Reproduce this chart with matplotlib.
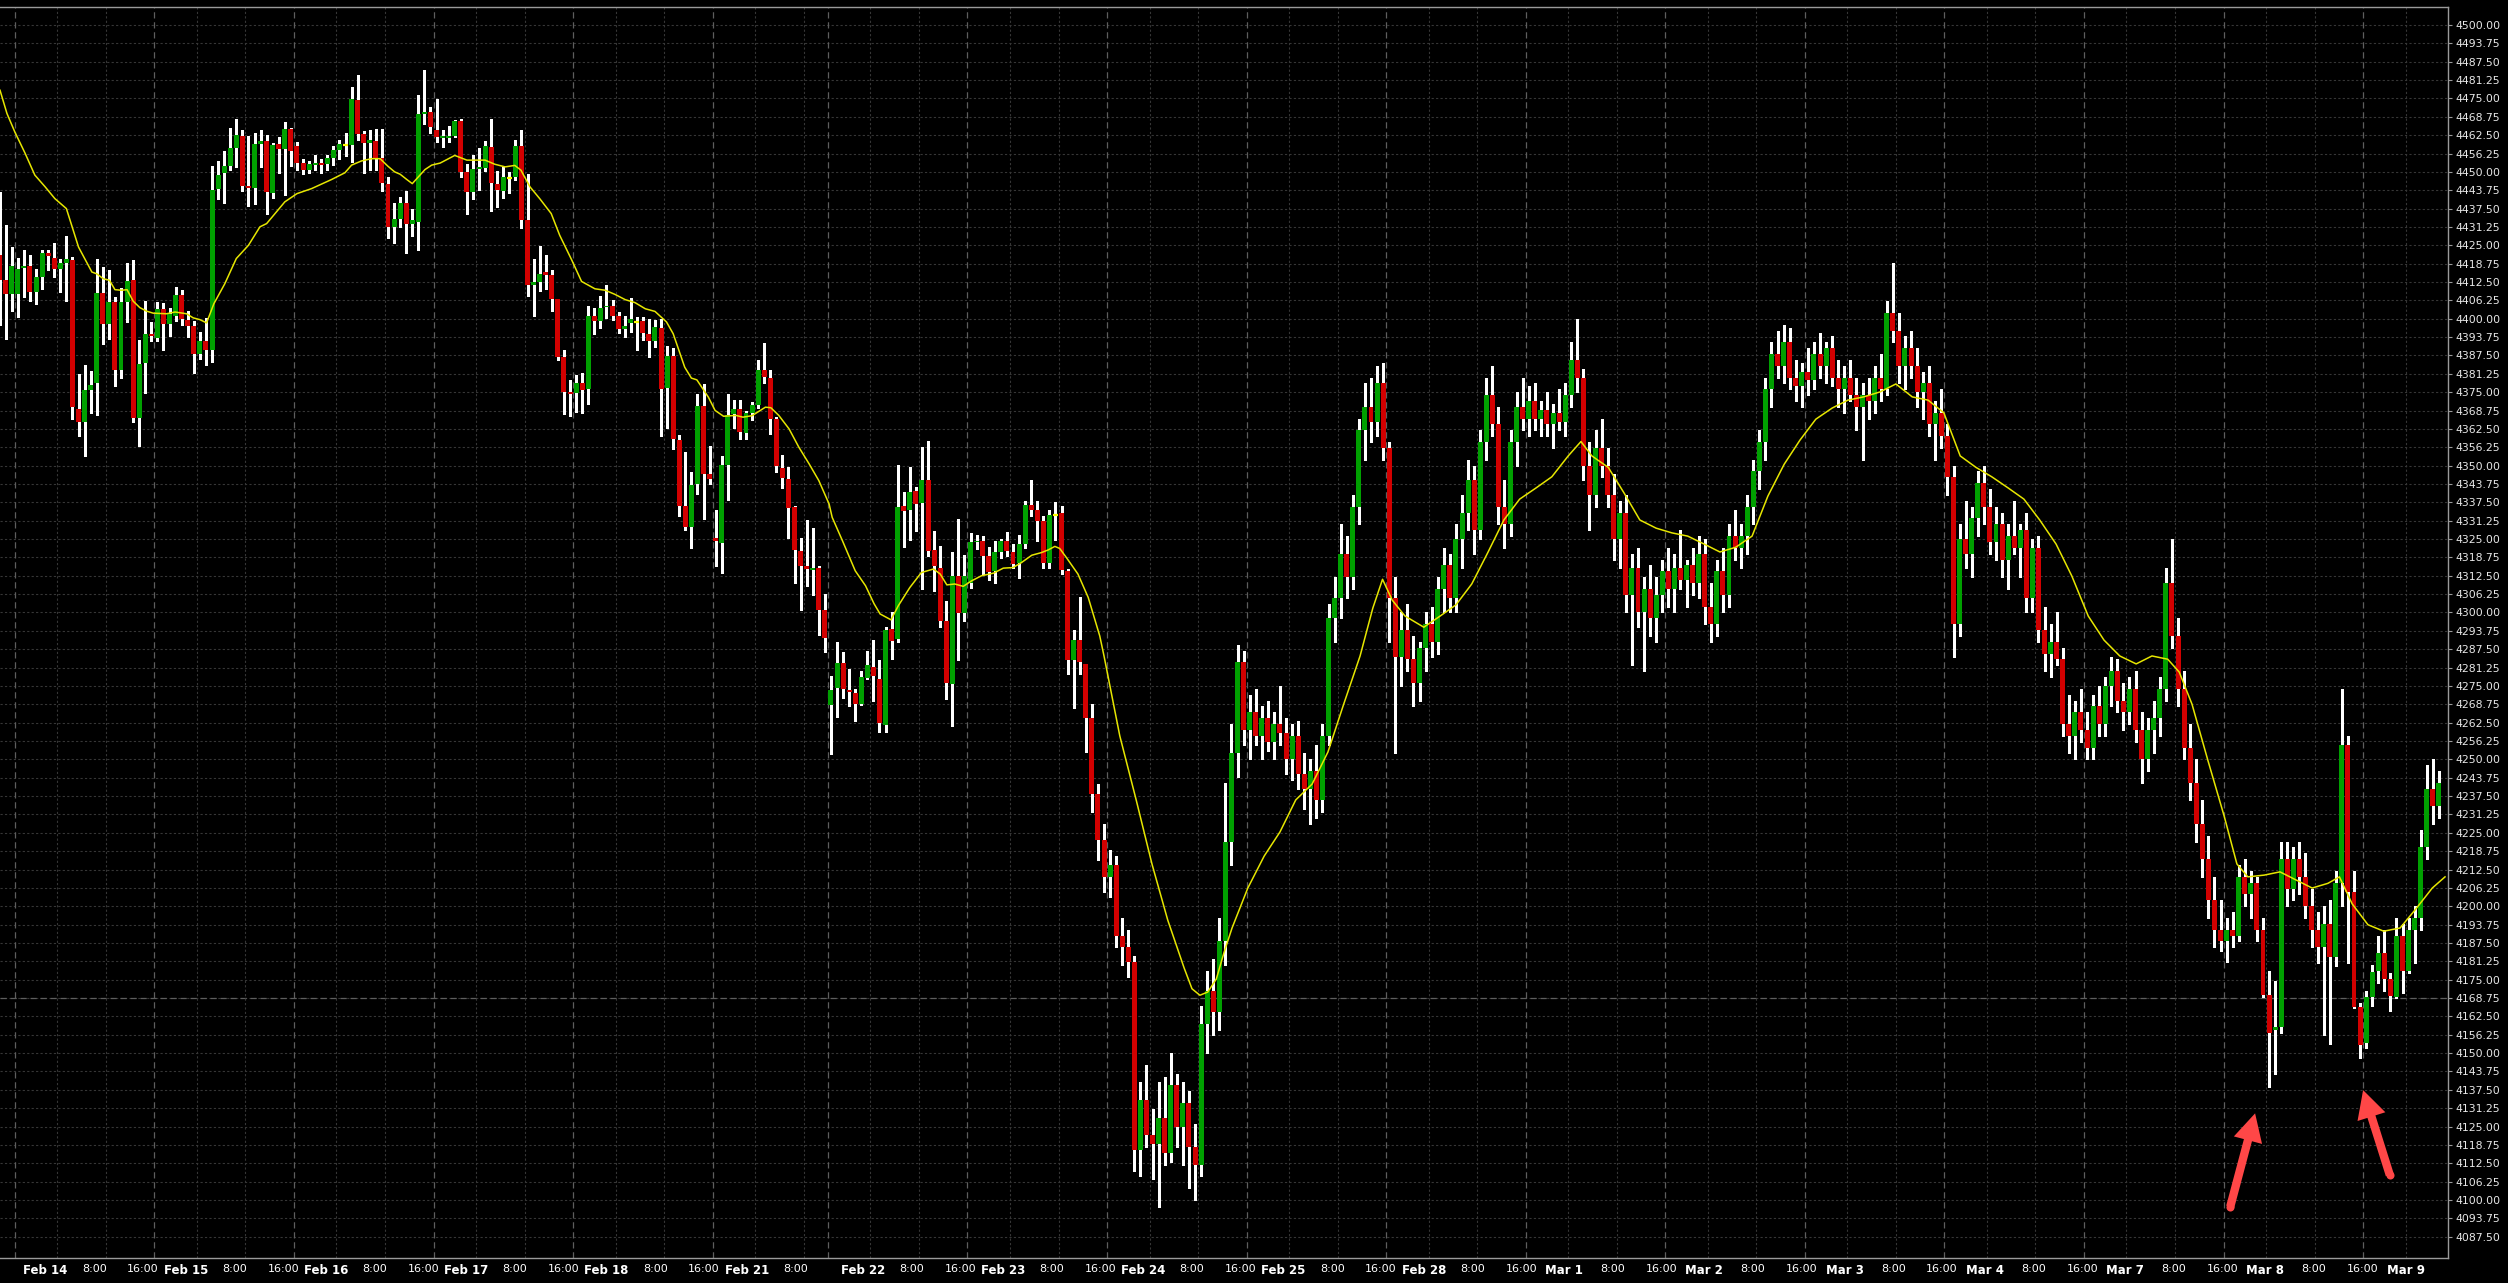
import matplotlib.pyplot as plt
from matplotlib.patches import FancyArrowPatch
import numpy as np

# hourly candles (index 0 = first, partly hidden bar)
opens = [4421.6, 4413.1, 4408.5, 4408.5, 4417.2, 4417.8, 4409.1, 4414.1, 4422.5, 4420.8,
         4416.8, 4419.0, 4419.9, 4369.3, 4365.0, 4375.6, 4378.1, 4408.6, 4398.1, 4405.6,
         4382.5, 4405.6, 4413.1, 4366.1, 4384.9, 4394.7, 4393.5, 4403.4, 4398.3, 4401.1,
         4408.0, 4399.7, 4397.7, 4388.1, 4392.3, 4389.4, 4444.1, 4449.6, 4451.9, 4458.2,
         4462.2, 4445.2, 4444.5, 4459.6, 4460.5, 4442.8, 4459.4, 4457.9, 4464.5, 4458.7,
         4453.1, 4450.6, 4452.4, 4453.1, 4452.6, 4454.8, 4457.4, 4459.1, 4459.2, 4474.4,
         4462.8, 4459.9, 4460.5, 4454.7, 4446.0, 4431.3, 4433.9, 4439.5, 4432.3, 4433.0,
         4469.8, 4470.5, 4464.2, 4461.6, 4461.6, 4462.2, 4467.3, 4450.0, 4443.2, 4450.9,
         4451.4, 4458.4, 4445.8, 4443.5, 4448.0, 4448.3, 4458.7, 4433.5, 4411.6, 4412.4,
         4415.8, 4414.8, 4406.6, 4387.0, 4375.0, 4374.7, 4378.2, 4376.0, 4400.8, 4399.2,
         4403.9, 4404.4, 4400.9, 4396.4, 4398.6, 4398.9, 4399.1, 4394.9, 4392.4, 4396.9,
         4376.4, 4387.2, 4358.8, 4336.3, 4329.0, 4343.8, 4370.2, 4347.1, 4325.3, 4323.5,
         4350.3, 4367.6, 4369.4, 4361.1, 4367.8, 4370.8, 4382.6, 4379.9, 4365.9, 4349.2,
         4345.3, 4335.8, 4320.8, 4315.8, 4314.4, 4315.0, 4300.8, 4268.5, 4274.2, 4282.7,
         4273.7, 4272.7, 4268.8, 4277.8, 4281.6, 4277.5, 4261.7, 4294.4, 4290.9, 4336.4,
         4335.0, 4341.5, 4337.2, 4345.1, 4321.2, 4315.1, 4297.1, 4275.7, 4312.5, 4299.7,
         4310.2, 4323.9, 4324.4, 4319.1, 4314.2, 4320.7, 4324.4, 4320.7, 4316.8, 4323.3,
         4336.7, 4334.9, 4331.2, 4317.0, 4333.3, 4333.9, 4314.2, 4283.9, 4290.7, 4282.4,
         4264.2, 4238.1, 4222.7, 4210.0, 4214.0, 4190.0, 4186.0, 4181.0, 4117.0, 4134.0,
         4122.0, 4119.0, 4128.0, 4116.0, 4139.0, 4125.0, 4133.0, 4118.0, 4112.0, 4160.0,
         4171.0, 4164.0, 4188.0, 4222.0, 4252.0, 4283.0, 4260.0, 4266.0, 4258.0, 4264.0,
         4256.0, 4262.0, 4259.0, 4250.0, 4258.0, 4245.0, 4240.0, 4246.0, 4236.0, 4258.0,
         4298.0, 4305.0, 4320.0, 4312.0, 4336.0, 4362.0, 4370.0, 4365.0, 4378.0, 4356.0,
         4305.0, 4285.0, 4294.0, 4284.0, 4276.0, 4288.0, 4296.0, 4290.0, 4308.0, 4316.0,
         4305.0, 4325.0, 4334.0, 4345.0, 4328.0, 4358.0, 4374.0, 4364.0, 4336.0, 4330.0,
         4358.0, 4370.0, 4366.0, 4372.0, 4366.0, 4369.0, 4364.0, 4368.0, 4365.0, 4374.0,
         4386.0, 4380.0, 4350.0, 4340.0, 4356.0, 4350.0, 4340.0, 4325.0, 4334.0, 4306.0,
         4315.0, 4300.0, 4308.0, 4298.0, 4306.0, 4314.0, 4308.0, 4315.0, 4311.0, 4316.0,
         4310.0, 4320.0, 4302.0, 4296.0, 4314.0, 4306.0, 4326.0, 4322.0, 4326.0, 4336.0,
         4348.0, 4358.0, 4376.0, 4388.0, 4384.0, 4392.0, 4380.0, 4377.0, 4382.0, 4379.0,
         4388.0, 4384.0, 4390.0, 4380.0, 4376.0, 4380.0, 4374.0, 4370.0, 4374.0, 4372.0,
         4380.0, 4376.0, 4402.0, 4396.0, 4384.0, 4390.0, 4384.0, 4375.0, 4378.0, 4364.0,
         4368.0, 4360.0, 4346.0, 4296.0, 4325.0, 4320.0, 4332.0, 4344.0, 4336.0, 4324.0,
         4330.0, 4318.0, 4326.0, 4322.0, 4328.0, 4305.0, 4322.0, 4294.0, 4286.0, 4290.0,
         4284.0, 4262.0, 4258.0, 4266.0, 4260.0, 4254.0, 4268.0, 4262.0, 4275.0, 4280.0,
         4270.0, 4266.0, 4274.0, 4260.0, 4250.0, 4260.0, 4264.0, 4274.0, 4310.0, 4292.0,
         4274.0, 4254.0, 4242.0, 4228.0, 4216.0, 4202.0, 4192.0, 4188.0, 4192.0, 4190.0,
         4210.0, 4204.0, 4208.0, 4192.0, 4169.9, 4157.7, 4158.8, 4216.0, 4206.0, 4216.0,
         4210.0, 4200.0, 4192.0, 4186.0, 4194.0, 4182.7, 4208.0, 4255.0, 4205.0, 4165.7,
         4153.4, 4169.1, 4177.8, 4184.1, 4175.2, 4169.1, 4190.0, 4177.8, 4192.0, 4196.0,
         4220.0, 4240.0, 4234.0]
highs = [4443.0, 4431.8, 4424.4, 4420.7, 4423.3, 4421.6, 4416.8, 4423.3, 4423.3, 4425.8,
         4420.2, 4428.1, 4421.0, 4381.2, 4384.1, 4382.1, 4420.2, 4417.6, 4416.5, 4407.4,
         4410.5, 4419.0, 4419.9, 4392.6, 4406.0, 4398.9, 4405.6, 4405.3, 4403.7, 4410.8,
         4409.7, 4402.6, 4399.4, 4395.5, 4400.2, 4451.9, 4453.7, 4457.0, 4464.8, 4467.9,
         4464.2, 4462.2, 4463.4, 4464.2, 4462.5, 4459.9, 4461.9, 4467.1, 4464.9, 4460.2,
         4454.5, 4453.6, 4455.7, 4454.4, 4455.7, 4458.7, 4460.8, 4463.1, 4478.9, 4482.9,
         4464.0, 4464.4, 4464.5, 4464.5, 4448.3, 4439.5, 4441.5, 4443.4, 4437.3, 4476.1,
         4484.7, 4472.2, 4474.7, 4464.2, 4465.6, 4467.6, 4467.9, 4452.8, 4455.6, 4458.2,
         4460.6, 4467.9, 4450.3, 4451.7, 4450.0, 4460.8, 4464.2, 4449.2, 4420.5, 4424.7,
         4421.8, 4416.5, 4406.8, 4389.2, 4379.0, 4380.7, 4381.5, 4404.2, 4403.6, 4407.6,
         4411.4, 4406.5, 4402.3, 4401.1, 4407.2, 4400.6, 4400.6, 4400.0, 4399.7, 4400.0,
         4390.6, 4390.1, 4360.5, 4354.5, 4347.7, 4374.4, 4377.8, 4356.8, 4334.9, 4353.4,
         4374.4, 4372.5, 4372.4, 4368.5, 4371.6, 4386.0, 4391.7, 4382.6, 4366.7, 4353.7,
         4349.4, 4336.3, 4325.3, 4331.5, 4328.6, 4315.9, 4306.3, 4278.4, 4289.8, 4286.4,
         4280.9, 4273.9, 4280.1, 4286.9, 4290.6, 4283.9, 4295.1, 4300.2, 4350.3, 4341.1,
         4349.7, 4342.6, 4356.2, 4358.3, 4327.8, 4322.7, 4304.0, 4320.7, 4331.8, 4319.7,
         4327.0, 4326.4, 4326.1, 4322.4, 4324.4, 4325.0, 4327.5, 4323.3, 4326.5, 4338.0,
         4345.2, 4337.8, 4332.7, 4335.0, 4337.5, 4336.4, 4314.8, 4294.1, 4305.3, 4282.6,
         4268.8, 4241.5, 4228.0, 4219.0, 4217.0, 4196.0, 4192.0, 4183.0, 4140.0, 4146.0,
         4131.0, 4140.0, 4142.0, 4150.0, 4143.0, 4140.0, 4137.0, 4126.0, 4166.0, 4178.0,
         4182.0, 4196.0, 4242.0, 4262.0, 4289.0, 4287.0, 4272.0, 4274.0, 4268.0, 4270.0,
         4266.0, 4275.0, 4264.0, 4262.0, 4263.0, 4252.0, 4250.0, 4255.0, 4262.0, 4303.0,
         4312.0, 4330.0, 4326.0, 4340.0, 4366.0, 4378.0, 4380.0, 4384.0, 4385.0, 4358.0,
         4312.0, 4300.0, 4303.0, 4292.0, 4290.0, 4300.0, 4302.0, 4312.0, 4322.0, 4320.0,
         4330.0, 4340.0, 4352.0, 4350.0, 4362.0, 4380.0, 4384.0, 4370.0, 4345.0, 4362.0,
         4375.0, 4380.0, 4377.0, 4378.0, 4372.0, 4375.0, 4371.0, 4376.0, 4378.0, 4392.0,
         4400.0, 4383.0, 4358.0, 4362.0, 4366.0, 4356.0, 4347.0, 4338.0, 4340.0, 4320.0,
         4322.0, 4312.0, 4316.0, 4312.0, 4318.0, 4322.0, 4320.0, 4328.0, 4318.0, 4322.0,
         4326.0, 4325.0, 4310.0, 4318.0, 4322.0, 4330.0, 4335.0, 4330.0, 4340.0, 4352.0,
         4362.0, 4380.0, 4392.0, 4396.0, 4398.0, 4397.0, 4386.0, 4385.0, 4390.0, 4392.0,
         4395.0, 4392.0, 4394.0, 4386.0, 4384.0, 4386.0, 4380.0, 4378.0, 4380.0, 4384.0,
         4388.0, 4406.0, 4419.0, 4402.0, 4394.0, 4396.0, 4390.0, 4382.0, 4384.0, 4372.0,
         4376.0, 4364.0, 4350.0, 4330.0, 4338.0, 4336.0, 4348.0, 4350.0, 4342.0, 4336.0,
         4334.0, 4330.0, 4338.0, 4330.0, 4334.0, 4325.0, 4326.0, 4302.0, 4296.0, 4300.0,
         4288.0, 4272.0, 4270.0, 4274.0, 4266.0, 4272.0, 4275.0, 4278.0, 4285.0, 4284.0,
         4276.0, 4278.0, 4280.0, 4266.0, 4264.0, 4270.0, 4278.0, 4315.0, 4325.0, 4298.0,
         4280.0, 4262.0, 4250.0, 4236.0, 4224.0, 4210.0, 4202.0, 4196.0, 4198.0, 4214.0,
         4216.0, 4212.0, 4210.0, 4196.0, 4178.1, 4174.4, 4222.0, 4222.0, 4220.0, 4222.0,
         4218.0, 4206.0, 4198.0, 4200.0, 4202.0, 4212.0, 4274.0, 4258.0, 4212.0, 4167.0,
         4171.0, 4180.1, 4190.0, 4192.0, 4177.3, 4196.0, 4194.0, 4196.0, 4200.0, 4226.0,
         4248.0, 4250.0, 4246.0]
lows = [4398.0, 4393.2, 4402.6, 4400.6, 4407.4, 4406.0, 4405.0, 4410.1, 4416.7, 4414.2,
        4409.0, 4406.0, 4365.9, 4360.0, 4353.4, 4367.8, 4367.3, 4391.5, 4393.2, 4377.0,
        4379.8, 4398.9, 4364.8, 4356.6, 4374.8, 4392.4, 4392.5, 4389.4, 4394.0, 4399.2,
        4398.0, 4393.8, 4381.5, 4386.4, 4384.3, 4385.2, 4440.8, 4439.4, 4450.6, 4451.7,
        4443.5, 4438.4, 4439.1, 4451.7, 4435.7, 4441.1, 4449.7, 4442.0, 4451.9, 4450.6,
        4449.4, 4449.6, 4450.6, 4449.7, 4450.6, 4452.4, 4454.4, 4455.3, 4453.4, 4461.0,
        4449.7, 4450.6, 4450.8, 4443.5, 4427.5, 4425.8, 4431.3, 4422.5, 4428.2, 4423.3,
        4466.2, 4463.3, 4460.2, 4458.5, 4460.2, 4461.9, 4448.3, 4435.8, 4440.9, 4444.0,
        4450.3, 4436.7, 4438.1, 4441.1, 4442.8, 4447.4, 4431.0, 4407.9, 4400.9, 4409.4,
        4410.0, 4402.6, 4385.8, 4367.6, 4366.8, 4368.2, 4367.8, 4371.0, 4394.9, 4396.8,
        4400.3, 4399.7, 4395.1, 4393.7, 4395.5, 4389.4, 4392.8, 4386.9, 4390.4, 4360.2,
        4362.8, 4355.7, 4332.7, 4328.1, 4321.8, 4340.3, 4331.8, 4343.8, 4315.9, 4313.6,
        4338.3, 4362.8, 4359.1, 4359.1, 4365.6, 4369.7, 4378.1, 4360.8, 4347.7, 4342.4,
        4325.3, 4310.2, 4300.8, 4309.1, 4306.0, 4292.4, 4286.7, 4251.9, 4264.4, 4271.0,
        4268.2, 4263.1, 4268.5, 4277.3, 4269.9, 4259.4, 4259.4, 4284.3, 4289.8, 4322.4,
        4324.8, 4327.6, 4308.0, 4319.3, 4307.4, 4294.9, 4270.5, 4261.3, 4283.8, 4297.0,
        4308.5, 4321.6, 4313.1, 4311.0, 4309.9, 4318.5, 4319.3, 4315.3, 4311.6, 4322.0,
        4333.0, 4324.2, 4315.1, 4315.3, 4324.8, 4313.1, 4279.2, 4267.6, 4279.0, 4252.6,
        4232.1, 4215.9, 4205.0, 4203.0, 4186.0, 4180.0, 4176.0, 4110.0, 4108.0, 4118.0,
        4107.0, 4097.6, 4112.0, 4113.0, 4118.0, 4112.0, 4104.0, 4100.0, 4108.0, 4150.0,
        4156.0, 4158.0, 4180.0, 4214.0, 4244.0, 4255.0, 4250.0, 4255.0, 4250.0, 4253.0,
        4250.0, 4255.0, 4245.0, 4243.0, 4240.0, 4233.0, 4228.0, 4230.0, 4232.0, 4255.0,
        4290.0, 4298.0, 4305.0, 4308.0, 4330.0, 4352.0, 4358.0, 4360.0, 4352.0, 4290.0,
        4252.0, 4275.0, 4280.0, 4268.0, 4270.0, 4280.0, 4285.0, 4286.0, 4300.0, 4300.0,
        4300.0, 4315.0, 4328.0, 4320.0, 4325.0, 4352.0, 4360.0, 4330.0, 4322.0, 4326.0,
        4350.0, 4362.0, 4360.0, 4362.0, 4360.0, 4360.0, 4356.0, 4362.0, 4360.0, 4370.0,
        4375.0, 4345.0, 4328.0, 4336.0, 4346.0, 4336.0, 4318.0, 4315.0, 4300.0, 4282.0,
        4295.0, 4280.0, 4292.0, 4290.0, 4300.0, 4302.0, 4300.0, 4308.0, 4302.0, 4306.0,
        4305.0, 4296.0, 4290.0, 4292.0, 4300.0, 4302.0, 4318.0, 4315.0, 4320.0, 4330.0,
        4342.0, 4352.0, 4370.0, 4380.0, 4378.0, 4376.0, 4372.0, 4370.0, 4374.0, 4376.0,
        4380.0, 4378.0, 4377.0, 4370.0, 4368.0, 4372.0, 4362.0, 4352.0, 4366.0, 4368.0,
        4372.0, 4374.0, 4392.0, 4378.0, 4376.0, 4380.0, 4370.0, 4366.0, 4360.0, 4352.0,
        4356.0, 4340.0, 4285.0, 4292.0, 4315.0, 4312.0, 4326.0, 4330.0, 4320.0, 4318.0,
        4312.0, 4308.0, 4320.0, 4312.0, 4300.0, 4300.0, 4290.0, 4280.0, 4278.0, 4282.0,
        4258.0, 4252.0, 4250.0, 4256.0, 4250.0, 4250.0, 4258.0, 4258.0, 4268.0, 4266.0,
        4260.0, 4262.0, 4256.0, 4242.0, 4246.0, 4252.0, 4258.0, 4270.0, 4288.0, 4268.0,
        4250.0, 4236.0, 4222.0, 4210.0, 4196.0, 4186.0, 4184.7, 4180.9, 4186.0, 4188.0,
        4200.0, 4196.0, 4188.0, 4169.1, 4138.6, 4143.0, 4156.8, 4200.0, 4202.0, 4204.0,
        4196.0, 4186.0, 4180.7, 4156.2, 4153.1, 4179.5, 4200.0, 4180.7, 4165.3, 4148.3,
        4151.9, 4166.0, 4173.9, 4171.0, 4164.5, 4168.8, 4170.5, 4177.3, 4180.7, 4192.0,
        4216.0, 4228.0, 4230.0]
closes = [4413.1, 4408.5, 4417.8, 4416.8, 4417.8, 4409.1, 4414.1, 4422.5, 4421.4, 4416.8,
          4418.9, 4420.2, 4369.9, 4365.0, 4375.6, 4377.6, 4408.6, 4398.1, 4405.6, 4382.5,
          4405.6, 4412.7, 4366.1, 4384.7, 4394.7, 4394.1, 4403.4, 4398.3, 4401.7, 4408.0,
          4400.0, 4397.7, 4388.1, 4392.3, 4389.5, 4444.0, 4449.1, 4451.9, 4458.1, 4462.5,
          4445.2, 4444.5, 4459.4, 4460.5, 4443.2, 4459.1, 4457.9, 4464.5, 4457.2, 4453.1,
          4450.6, 4452.6, 4453.1, 4452.3, 4454.8, 4457.4, 4459.4, 4459.1, 4474.7, 4462.8,
          4459.9, 4460.8, 4454.7, 4446.3, 4431.3, 4433.9, 4439.5, 4432.3, 4433.5, 4469.7,
          4470.5, 4465.3, 4461.9, 4462.2, 4462.1, 4467.3, 4450.0, 4443.2, 4450.9, 4451.7,
          4458.7, 4446.3, 4443.8, 4448.3, 4448.0, 4458.7, 4433.7, 4411.6, 4412.4, 4415.4,
          4414.8, 4406.6, 4387.0, 4375.0, 4374.3, 4378.2, 4375.7, 4400.8, 4399.2, 4403.7,
          4404.4, 4401.1, 4396.4, 4397.7, 4399.9, 4398.9, 4395.1, 4392.4, 4397.1, 4376.0,
          4387.2, 4358.9, 4336.4, 4329.0, 4343.5, 4370.2, 4347.1, 4345.5, 4324.2, 4350.3,
          4367.4, 4369.4, 4361.6, 4367.8, 4370.8, 4382.6, 4380.1, 4365.9, 4350.0, 4345.7,
          4335.7, 4321.3, 4315.8, 4314.9, 4315.1, 4300.8, 4291.3, 4273.5, 4282.9, 4273.9,
          4273.1, 4268.8, 4278.1, 4282.0, 4278.4, 4262.5, 4294.1, 4290.3, 4336.0, 4334.4,
          4340.9, 4336.9, 4345.1, 4321.0, 4315.7, 4297.1, 4276.1, 4312.3, 4299.8, 4312.3,
          4324.1, 4324.4, 4319.1, 4313.9, 4320.7, 4324.4, 4321.0, 4316.5, 4323.3, 4336.7,
          4334.9, 4331.2, 4317.0, 4333.3, 4333.3, 4314.4, 4283.9, 4290.7, 4283.0, 4264.2,
          4238.3, 4222.7, 4210.0, 4214.0, 4190.0, 4186.0, 4181.0, 4117.0, 4134.0, 4122.0,
          4119.0, 4128.0, 4116.0, 4139.0, 4125.0, 4133.0, 4118.0, 4112.0, 4160.0, 4171.0,
          4164.0, 4188.0, 4222.0, 4252.0, 4283.0, 4260.0, 4266.0, 4258.0, 4264.0, 4256.0,
          4262.0, 4259.0, 4250.0, 4258.0, 4245.0, 4240.0, 4246.0, 4236.0, 4258.0, 4298.0,
          4305.0, 4320.0, 4312.0, 4336.0, 4362.0, 4370.0, 4365.0, 4378.0, 4356.0, 4305.0,
          4285.0, 4294.0, 4284.0, 4276.0, 4288.0, 4296.0, 4290.0, 4308.0, 4316.0, 4305.0,
          4325.0, 4334.0, 4345.0, 4328.0, 4358.0, 4374.0, 4364.0, 4336.0, 4330.0, 4358.0,
          4370.0, 4366.0, 4372.0, 4366.0, 4369.0, 4364.0, 4368.0, 4365.0, 4374.0, 4386.0,
          4380.0, 4350.0, 4340.0, 4356.0, 4350.0, 4340.0, 4325.0, 4334.0, 4306.0, 4315.0,
          4300.0, 4308.0, 4298.0, 4306.0, 4314.0, 4308.0, 4315.0, 4311.0, 4316.0, 4310.0,
          4320.0, 4302.0, 4296.0, 4314.0, 4306.0, 4326.0, 4322.0, 4326.0, 4336.0, 4348.0,
          4358.0, 4376.0, 4388.0, 4384.0, 4392.0, 4380.0, 4377.0, 4382.0, 4379.0, 4388.0,
          4384.0, 4390.0, 4380.0, 4376.0, 4380.0, 4374.0, 4370.0, 4374.0, 4372.0, 4380.0,
          4376.0, 4402.0, 4396.0, 4384.0, 4390.0, 4384.0, 4375.0, 4378.0, 4364.0, 4368.0,
          4360.0, 4346.0, 4296.0, 4325.0, 4320.0, 4332.0, 4344.0, 4336.0, 4324.0, 4330.0,
          4318.0, 4326.0, 4322.0, 4328.0, 4305.0, 4322.0, 4294.0, 4286.0, 4290.0, 4284.0,
          4262.0, 4258.0, 4266.0, 4260.0, 4254.0, 4268.0, 4262.0, 4275.0, 4280.0, 4270.0,
          4266.0, 4274.0, 4260.0, 4250.0, 4260.0, 4264.0, 4274.0, 4310.0, 4292.0, 4274.0,
          4254.0, 4242.0, 4228.0, 4216.0, 4202.0, 4192.0, 4188.0, 4192.0, 4190.0, 4210.0,
          4204.0, 4208.0, 4192.0, 4169.9, 4157.0, 4158.9, 4216.0, 4206.0, 4216.0, 4210.0,
          4200.0, 4192.0, 4186.0, 4194.0, 4182.7, 4208.0, 4255.0, 4205.0, 4165.7, 4152.6,
          4169.1, 4177.5, 4184.1, 4175.2, 4169.3, 4190.0, 4177.8, 4192.0, 4196.0, 4220.0,
          4240.0, 4234.0, 4242.0]

# moving average line, read at points along its path (bar index, price)
ma_pos = [0.06, 1.2, 2.5, 4.2, 5.8, 7.5, 9.1, 11.0, 13.0, 15.2, 16.0, 17.1, 18.1, 19.0,
          20.1, 21.0, 22.0, 23.1, 24.2, 25.3, 27.5, 28.9, 30.8, 31.9, 33.0, 34.1, 35.3,
          37.1, 39.0, 41.0, 42.9, 44.0, 47.0, 49.0, 51.4, 53.0, 54.7, 56.9, 58.0, 59.6,
          61.3, 62.7, 64.0, 65.1, 66.0, 67.1, 68.0, 69.0, 70.1, 71.2, 72.6, 75.0, 77.0,
          80.0, 81.6, 83.3, 84.9, 85.9, 87.4, 89.0, 90.9, 92.3, 94.3, 95.9, 98.1, 99.8,
          101.4, 103.1, 104.7, 106.4, 108.0, 109.9, 111.0, 112.9, 114.0, 114.9, 116.8,
          117.9, 119.3, 121.3, 122.5, 124.0, 126.2, 127.1, 128.4, 130.1, 131.7, 133.4,
          135.0, 136.7, 137.2, 138.9, 141.0, 142.7, 144.1, 145.1, 146.9, 148.1, 150.0,
          151.9, 153.9, 155.0, 156.1, 157.4, 158.8, 160.2, 161.8, 163.8, 165.4, 167.0,
          168.4, 170.1, 171.7, 172.8, 173.9, 174.7, 175.8, 177.7, 179.4, 181.3,
          182.0, 184.6, 187.3, 189.9, 192.5, 195.2, 196.5, 197.8, 199.1, 200.5, 201.8,
          203.1, 205.7, 208.4, 211.0, 213.6, 216.3, 218.9, 221.5, 224.2, 226.3, 227.9,
          229.5, 231.6, 234.7, 237.4, 240.0, 242.6, 245.3, 247.9, 250.5, 253.2, 255.8,
          258.5, 260.6, 262.4, 265.1, 267.7, 270.3, 273.0, 275.6, 278.2, 280.9, 283.5,
          286.1, 288.8, 291.4, 294.1, 296.7, 299.3, 302.0, 304.6, 307.2, 309.9, 312.5,
          315.2, 317.8, 320.4, 323.1, 325.7, 328.3, 331.0, 333.6, 336.2, 338.9, 341.5,
          344.2, 346.8, 349.4, 352.1, 354.7, 357.3, 359.2, 361.3, 363.9, 366.6, 368.7,
          370.5, 373.2, 375.8, 378.4, 381.1, 383.7, 385.6, 387.7, 390.3, 392.9, 395.6,
          398.2, 400.9, 403.0]
ma_val = [4477.8, 4469.9, 4463.6, 4456.3, 4448.9, 4444.9, 4440.9, 4437.5, 4424.4, 4415.9,
          4415.3, 4413.6, 4413.1, 4409.9, 4409.7, 4409.9, 4406.0, 4403.8, 4402.6, 4401.9,
          4401.7, 4402.3, 4401.7, 4400.3, 4399.7, 4398.6, 4405.1, 4411.9, 4420.5, 4425.0,
          4431.3, 4432.4, 4439.8, 4442.6, 4444.3, 4445.8, 4447.4, 4449.7, 4452.3, 4453.7,
          4454.5, 4454.5, 4451.9, 4450.0, 4449.2, 4447.4, 4446.0, 4448.3, 4450.8, 4452.3,
          4453.0, 4455.6, 4454.0, 4454.0, 4452.6, 4451.7, 4452.2, 4450.6, 4444.9, 4440.9,
          4435.8, 4428.4, 4419.9, 4412.7, 4410.2, 4409.7, 4408.3, 4406.5, 4405.5, 4403.4,
          4402.5, 4398.9, 4394.9, 4383.5, 4379.8, 4379.2, 4373.3, 4368.8, 4366.8, 4367.1,
          4366.5, 4367.0, 4369.9, 4369.7, 4367.1, 4362.5, 4356.3, 4350.6, 4344.9, 4336.9,
          4332.4, 4324.4, 4314.2, 4309.1, 4303.0, 4299.5, 4297.5, 4302.3, 4308.5, 4313.6,
          4314.8, 4313.1, 4309.4, 4309.7, 4308.9, 4310.8, 4312.5, 4313.4, 4315.1, 4315.3,
          4317.0, 4319.5, 4320.4, 4321.3, 4322.5, 4321.8, 4318.7, 4313.1, 4305.1, 4292.0,
          4285.2, 4258.0, 4236.2, 4214.4, 4195.3, 4179.0, 4171.9, 4169.7, 4170.8, 4175.2,
          4184.4, 4192.6, 4206.2, 4217.1, 4225.3, 4236.2, 4241.6, 4252.5, 4268.8, 4285.2,
          4301.5, 4311.3, 4304.2, 4298.8, 4295.0, 4298.8, 4302.6, 4309.7, 4320.6, 4331.5,
          4338.6, 4342.4, 4346.2, 4353.3, 4358.2, 4353.3, 4349.4, 4340.7, 4331.5, 4328.7,
          4327.1, 4326.0, 4323.3, 4320.6, 4322.2, 4326.0, 4339.6, 4350.5, 4358.7, 4365.8,
          4369.6, 4372.3, 4373.4, 4375.1, 4377.8, 4373.4, 4372.3, 4368.0, 4353.3, 4349.4,
          4346.2, 4342.4, 4338.6, 4331.5, 4323.3, 4312.4, 4298.8, 4290.6, 4285.2, 4282.5,
          4285.2, 4284.1, 4279.7, 4268.8, 4249.8, 4230.7, 4214.4, 4210.0, 4210.6, 4211.7,
          4209.0, 4206.2, 4207.8, 4210.0, 4200.8, 4193.7, 4191.5, 4192.6, 4199.1, 4206.2,
          4210.0]

# session layout along the time axis
day_labels = ['Feb 14', 'Feb 15', 'Feb 16', 'Feb 17', 'Feb 18', 'Feb 21', 'Feb 22',
              'Feb 23', 'Feb 24', 'Feb 25', 'Feb 28', 'Mar 1', 'Mar 2', 'Mar 3',
              'Mar 4', 'Mar 7', 'Mar 8', 'Mar 9']
day_bars = [23, 23, 23, 23, 23, 19, 23, 23, 23, 23, 23, 23, 23, 23, 23, 23, 23, 6]
first_day_bar = 10

price_ticks = np.arange(4087.5, 4500.01, 6.25)
marked_level = 4168.75

BG = '#000000'
UP = '#00a000'
DOWN = '#d20000'
DOJI = '#ffff00'
WICK = '#ffffff'
GRID = '#363636'
SEP = '#5e5e5e'
FRAME = '#9a9a9a'
ARROW = '#ff4747'

fig = plt.figure(figsize=(25.08, 12.83), dpi=100, facecolor=BG)
ax = fig.add_axes([0, 25 / 1283, 2448 / 2508, 1251 / 1283])
ax.set_facecolor(BG)
ax.set_xlim(0.058, 403.49)
ax.set_ylim(4080.25, 4506.13)

# grid
for p in price_ticks:
    ax.axhline(p, color=GRID, lw=0.8, ls=(0, (2, 2)), zorder=0)
ax.axhline(marked_level, color=SEP, lw=0.9, ls=(0, (5, 3)), zorder=0)

tick_pos, tick_lab, seps = [], [], [2.5]
start = first_day_bar
for name, n in zip(day_labels, day_bars):
    tick_pos += [start - 0.5, start + 7.5]
    tick_lab += [name, '8:00']
    if n == 23:
        tick_pos.append(start + 15.5)
        tick_lab.append('16:00')
        seps.append(start + 15.5)
    elif name != day_labels[-1]:
        seps.append(start + n - 7.5)
    start += n
keep = [k for k, p in enumerate(tick_pos) if p < 403]
tick_pos = [tick_pos[k] for k in keep]
tick_lab = [tick_lab[k] for k in keep]

for p, lab in zip(tick_pos, tick_lab):
    if lab != '16:00':
        ax.axvline(p, color=GRID, lw=0.8, ls=(0, (2, 2)), zorder=0)
for p in seps:
    ax.axvline(p, color=SEP, lw=0.9, ls=(0, (5, 3)), zorder=0)

# candles
x = np.arange(len(opens))
o = np.array(opens)
c = np.array(closes)
ax.vlines(x, lows, highs, color=WICK, lw=0.8, antialiased=False, zorder=2)
body_lo = np.minimum(o, c)
body_h = np.maximum(np.abs(c - o), 0.5)
cols = [UP if cc > oo else DOWN for oo, cc in zip(o, c)]
real = o != c
ax.bar(x[real], body_h[real], bottom=body_lo[real], width=0.82,
       color=[cols[k] for k in np.where(real)[0]], linewidth=0, antialiased=False, zorder=3)
ax.hlines(o[~real], x[~real] - 0.41, x[~real] + 0.41, color=DOJI, lw=1.6, zorder=3)

# moving average
ax.plot(ma_pos, ma_val, color='#e6e600', lw=1.1, zorder=4)

# arrows pointing at the two lows
arrows = [((367.6, 4097.7), (371.7, 4129.5)), ((393.9, 4108.5), (389.5, 4137.4))]
for tail, tip in arrows:
    ax.add_patch(FancyArrowPatch(tail, tip, arrowstyle='simple,head_width=2.1,head_length=2.0,tail_width=0.6',
                                 mutation_scale=10, color=ARROW, lw=0, shrinkA=0, shrinkB=0, zorder=6))
    ax.plot(*tail, marker='o', ms=5.8, color=ARROW, mew=0, zorder=6)

# frame and axes
for side in ['top', 'right', 'bottom']:
    ax.spines[side].set_color(FRAME)
    ax.spines[side].set_linewidth(1.0)
ax.spines['left'].set_visible(False)

ax.yaxis.tick_right()
ax.set_yticks(price_ticks)
ax.set_yticklabels(['%.2f' % p for p in price_ticks])
ax.tick_params(axis='y', length=3, width=0.8, color=FRAME, labelcolor='#e8e8e8',
               labelsize=7.8, pad=2)
# the terminal draws its time labels slightly left of the grid lines on the left side
label_pos = [p - 2.0 * (1 - p / 397) for p in tick_pos]
ax.set_xticks(label_pos)
ax.set_xticklabels(tick_lab)
ax.tick_params(axis='x', length=0, labelcolor='#ffffff', labelsize=8, pad=4)
for t in ax.get_xticklabels():
    if ':' not in t.get_text():
        t.set_fontweight('bold')
        t.set_fontsize(8.5)

fig.savefig('out.png', dpi=100, facecolor=BG)
